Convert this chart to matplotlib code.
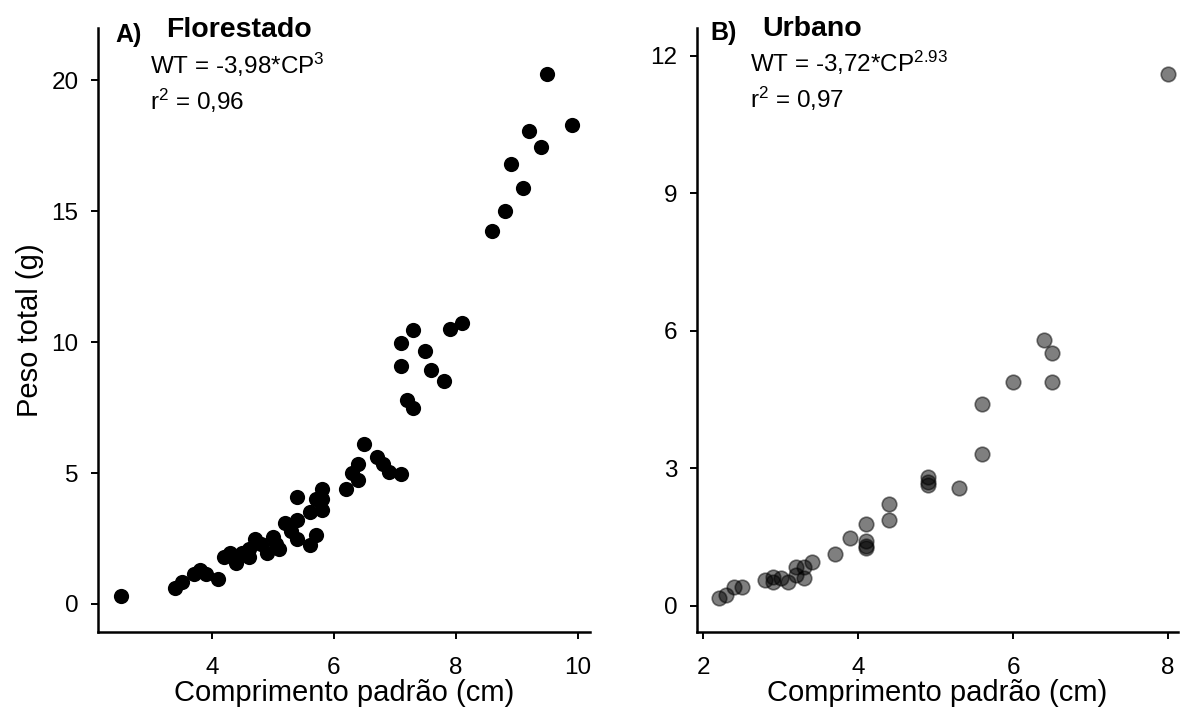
import matplotlib
matplotlib.use("Agg")
import matplotlib.pyplot as plt

plt.rcParams['font.family'] = ['Liberation Sans', 'DejaVu Sans']
plt.rcParams['mathtext.fontset'] = 'custom'
plt.rcParams['mathtext.rm'] = 'Liberation Sans'
plt.rcParams['mathtext.default'] = 'regular'

W, H = 1181, 711

# Florestado (panel A)
cp_flor = [2.5, 3.4, 3.5, 3.7, 3.8, 3.9, 4.1, 4.2, 4.3, 4.4, 4.5, 4.6, 4.6, 4.7,
           4.8, 4.9, 5.0, 5.05, 5.1, 5.2, 5.3, 5.4, 5.4, 5.4, 5.6, 5.6, 5.7, 5.7,
           5.8, 5.8, 5.8, 6.2, 6.3, 6.4, 6.4, 6.5, 6.7, 6.8, 6.9, 7.1, 7.2, 7.3,
           7.1, 7.1, 7.3, 7.5, 7.6, 7.8, 7.9, 8.1, 8.6, 8.8, 8.9, 9.1, 9.2, 9.4,
           9.5, 9.9]
wt_flor = [0.3, 0.6, 0.85, 1.15, 1.3, 1.15, 0.95, 1.8, 1.95, 1.55, 1.95, 1.8, 2.1, 2.5,
           2.3, 1.95, 2.55, 2.3, 2.1, 3.1, 2.8, 4.1, 3.2, 2.5, 2.25, 3.5, 2.65, 4.0,
           4.4, 3.6, 4.0, 4.4, 5.0, 4.75, 5.35, 6.1, 5.6, 5.35, 5.05, 4.97, 7.8, 7.5,
           9.1, 9.95, 10.45, 9.65, 8.95, 8.5, 10.5, 10.75, 14.25, 15.0, 16.8, 15.9, 18.05, 17.45,
           20.25, 18.3]

# Urbano (panel B)
cp_urb = [2.2, 2.3, 2.4, 2.5, 2.8, 2.9, 2.9, 3.0, 3.1, 3.2, 3.2, 3.3, 3.3, 3.4,
          3.7, 3.9, 4.1, 4.1, 4.1, 4.1, 4.4, 4.4, 4.9, 4.9, 4.9, 5.3, 5.6, 5.6,
          6.0, 6.4, 6.5, 6.5, 8.0]
wt_urb = [0.18, 0.24, 0.42, 0.42, 0.57, 0.63, 0.53, 0.61, 0.53, 0.85, 0.68, 0.61, 0.85, 0.96,
          1.12, 1.47, 1.78, 1.42, 1.3, 1.26, 2.22, 1.87, 2.8, 2.7, 2.64, 2.57, 3.32, 4.4,
          4.88, 5.8, 5.52, 4.88, 11.6]

fig = plt.figure(figsize=(W / 100, H / 100), dpi=100)
axA = fig.add_axes([98 / W, 79 / H, 492 / W, 604 / H])
axB = fig.add_axes([697 / W, 79 / H, 481 / W, 604 / H])

axA.scatter(cp_flor, wt_flor, s=120, color='black', linewidths=0, zorder=3)
axB.scatter(cp_urb, wt_urb, s=110, facecolor='black', edgecolor='black',
            linewidths=1.2, alpha=0.5, zorder=3)

axA.set_xlim(2.13, 10.2)
axA.set_ylim(-1.07, 22.0)
axA.set_xticks([4, 6, 8, 10])
axA.set_yticks([0, 5, 10, 15, 20])
axB.set_xlim(1.92, 8.13)
axB.set_ylim(-0.57, 12.6)
axB.set_xticks([2, 4, 6, 8])
axB.set_yticks([0, 3, 6, 9, 12])

for ax in (axA, axB):
    for s in ('top', 'right'):
        ax.spines[s].set_visible(False)
    for s in ('left', 'bottom'):
        ax.spines[s].set_linewidth(1.8)
    ax.tick_params(length=5, width=1.4, labelsize=17.5)
    ax.tick_params(axis='x', pad=13)
    ax.tick_params(axis='y', pad=9)
    ax.set_xlabel('Comprimento padrão (cm)', fontsize=21, labelpad=0)

axA.set_ylabel('Peso total (g)', fontsize=21, labelpad=5)


def label(x, y, s, size, bold=False):
    fig.text(x / W, 1 - y / H, s, fontsize=size, va='baseline', ha='left',
             fontweight='bold' if bold else 'normal')


label(115, 42, 'A)', 18, True)
label(166, 37, 'Florestado', 20.5, True)
label(150, 74, 'WT = -3,98*CP$^{3}$', 17.5)
label(150, 110, 'r$^{2}$ = 0,96', 17.5)

label(710, 40, 'B)', 18, True)
label(762, 36, 'Urbano', 20.5, True)
label(750, 72, 'WT = -3,72*CP$^{2.93}$', 17.5)
label(750, 108, 'r$^{2}$ = 0,97', 17.5)

fig.savefig('out.png', dpi=100)
